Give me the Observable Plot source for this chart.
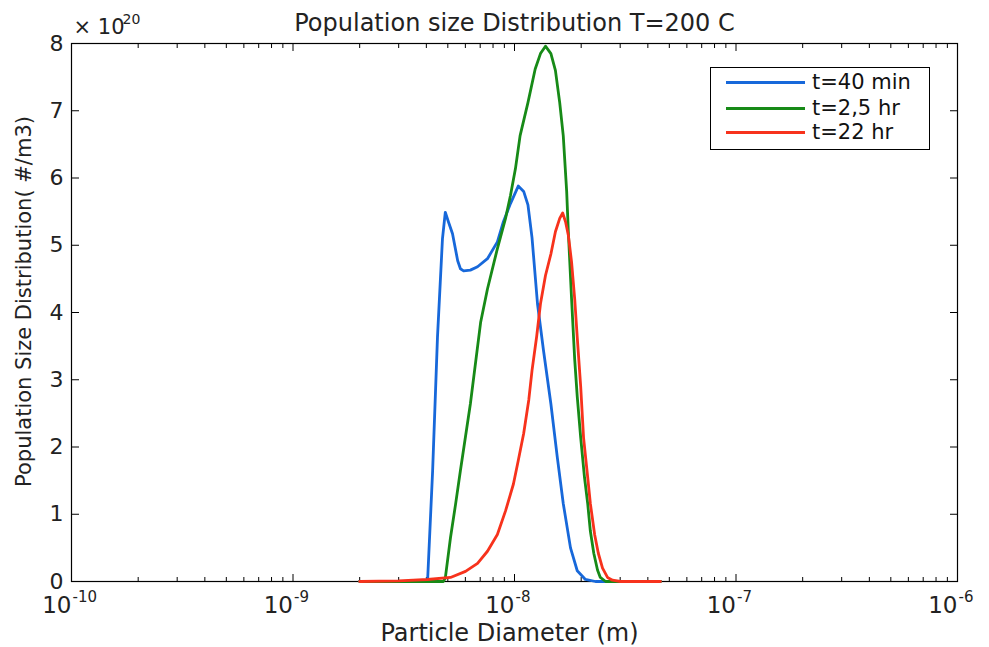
<!DOCTYPE html>
<html><head><meta charset="utf-8">
<script src="https://cdn.jsdelivr.net/npm/d3@7"></script>
<script src="https://cdn.jsdelivr.net/npm/@observablehq/plot@0.6"></script>
<style>
body{margin:0;background:#fff;}
#wrap{position:relative;width:989px;height:647px;font-family:"DejaVu Sans",sans-serif;}
#legend{position:absolute;left:710px;top:67px;width:218px;height:81px;border:1px solid #000;background:#fff;}
.row{position:absolute;left:0;width:218px;height:24px;}
.sw{position:absolute;left:15px;top:10.5px;width:79px;height:3px;}
.lb{position:absolute;left:101px;top:0;font-size:21px;line-height:24px;color:#111;white-space:nowrap;}
</style></head><body><div id="wrap"></div>
<script>
// ---- data (diameter in nm, distribution in units of 1e20 #/m3) ----
const seriesLabels = ["t=40 min", "t=2,5 hr", "t=22 hr"];
const seriesColors = ["#1768da", "#178a17", "#f7321c"];

const diam_40min = [2.0, 4.05, 4.27, 4.49, 4.73, 4.87, 5.03, 5.25, 5.54, 5.70, 5.89, 6.32, 6.81, 7.55, 8.37, 8.91, 9.59, 10.4, 11.0, 11.5, 12.0, 12.7, 13.5, 14.6, 15.6, 16.6, 17.9, 19.2, 20.9, 23.2, 45.6];
const psd_40min  = [0, 0, 1.65, 3.63, 5.1, 5.49, 5.35, 5.17, 4.77, 4.65, 4.62, 4.63, 4.68, 4.8, 5.05, 5.35, 5.62, 5.88, 5.8, 5.6, 5.11, 4.13, 3.45, 2.64, 1.85, 1.16, 0.5, 0.16, 0.03, 0, 0];

const diam_2_5hr = [2.0, 4.77, 4.87, 5.14, 5.42, 5.70, 6.32, 7.03, 7.55, 8.37, 9.11, 9.59, 10.1, 10.6, 11.5, 12.4, 13.1, 13.8, 14.6, 15.3, 16.0, 16.6, 17.2, 17.5, 18.1, 18.7, 19.2, 19.9, 20.7, 21.4, 22.0, 22.8, 23.7, 24.4, 25.8, 45.6];
const psd_2_5hr  = [0, 0, 0.05, 0.65, 1.15, 1.65, 2.64, 3.85, 4.35, 4.95, 5.4, 5.74, 6.14, 6.63, 7.12, 7.62, 7.85, 7.96, 7.85, 7.6, 7.12, 6.63, 5.8, 5.2, 4.2, 3.3, 2.75, 2.14, 1.55, 1.16, 0.75, 0.42, 0.17, 0.06, 0, 0];

const diam_22hr = [2.0, 3.0, 4.05, 5.14, 6.01, 6.81, 7.55, 8.37, 9.11, 9.89, 10.4, 11.0, 11.6, 12.0, 12.6, 13.1, 13.8, 14.6, 15.3, 16.0, 16.5, 17.0, 17.5, 18.1, 18.7, 19.2, 19.9, 20.5, 21.4, 22.0, 23.0, 23.9, 24.97, 26.3, 27.7, 30.1, 45.6];
const psd_22hr  = [0, 0.01, 0.03, 0.06, 0.15, 0.27, 0.45, 0.7, 1.05, 1.45, 1.8, 2.2, 2.7, 3.14, 3.65, 4.13, 4.55, 4.87, 5.2, 5.4, 5.48, 5.35, 5.15, 4.75, 4.2, 3.63, 2.9, 2.14, 1.55, 1.16, 0.7, 0.42, 0.2, 0.06, 0.02, 0, 0];

// ---- axis ticks ----
const xTickExponents = [-10, -9, -8, -7, -6];
const xMinorMultipliers = [2, 3, 4, 5, 6, 7, 8, 9];
const yTicks = [0, 1, 2, 3, 4, 5, 6, 7, 8];

const titleText = "Population size Distribution T=200 C";
const xLabelText = "Particle Diameter (m)";
const yLabelText = "Population Size Distribution( #/m3)";

const toRows = (diam, psd) => diam.map((d, i) => ({d: d * 1e-9, v: psd[i]}));
const rows40 = toRows(diam_40min, psd_40min);
const rows25 = toRows(diam_2_5hr, psd_2_5hr);
const rows22 = toRows(diam_22hr, psd_22hr);

const majorX = xTickExponents.map(e => 10 ** e);
const minorX = xTickExponents.slice(0, -1).flatMap(e => xMinorMultipliers.map(m => m * 10 ** e));

const noText = () => "";
const chart = Plot.plot({
  width: 989, height: 647,
  marginLeft: 71, marginRight: 32, marginTop: 43, marginBottom: 66,
  style: {fontFamily: "DejaVu Sans, sans-serif", background: "#fff", color: "#000"},
  x: {type: "log", domain: [1e-10, 1e-6]},
  y: {domain: [0, 8]},
  marks: [
    Plot.frame({stroke: "#000", strokeWidth: 1.2}),
    Plot.axisY(yTicks, {anchor: "left", tickSize: -8, tickPadding: 16, fontSize: 22, label: null, tickFormat: d => String(d), fill: "#222"}),
    Plot.axisY(yTicks, {anchor: "right", tickSize: -8, tickFormat: noText, label: null}),
    Plot.axisX(majorX, {anchor: "bottom", tickSize: -7, tickFormat: noText, label: null}),
    Plot.axisX(minorX, {anchor: "bottom", tickSize: -4, tickFormat: noText, label: null}),
    Plot.axisX(majorX, {anchor: "top", tickSize: -7, tickFormat: noText, label: null}),
    Plot.axisX(minorX, {anchor: "top", tickSize: -4, tickFormat: noText, label: null}),
    Plot.line(rows40, {x: "d", y: "v", stroke: seriesColors[0], strokeWidth: 2.8}),
    Plot.line(rows25, {x: "d", y: "v", stroke: seriesColors[1], strokeWidth: 2.8}),
    Plot.line(rows22, {x: "d", y: "v", stroke: seriesColors[2], strokeWidth: 2.8}),
    Plot.text(xTickExponents, {x: e => 10 ** e, frameAnchor: "bottom", text: () => "10", textAnchor: "end", lineAnchor: "bottom", dy: 31, fontSize: 23, fill: "#222"}),
    Plot.text(xTickExponents, {x: e => 10 ** e, frameAnchor: "bottom", text: e => String(e), textAnchor: "start", lineAnchor: "bottom", dx: 1, dy: 20, fontSize: 15, fill: "#222"}),
    Plot.text(["× 10"], {frameAnchor: "top-left", text: d => d, textAnchor: "start", lineAnchor: "bottom", dx: 2, dy: -10, fontSize: 21, fill: "#222"}),
    Plot.text(["20"], {frameAnchor: "top-left", text: d => d, textAnchor: "start", lineAnchor: "bottom", dx: 51, dy: -20, fontSize: 14, fill: "#222"}),
    Plot.text([titleText], {frameAnchor: "top", text: d => d, textAnchor: "middle", lineAnchor: "bottom", dy: -13, fontSize: 24, fill: "#222"}),
    Plot.text([xLabelText], {frameAnchor: "bottom", text: d => d, textAnchor: "middle", lineAnchor: "bottom", dx: -5, dy: 59, fontSize: 24, fill: "#222"}),
    Plot.text([yLabelText], {frameAnchor: "left", text: d => d, rotate: -90, textAnchor: "middle", lineAnchor: "middle", dx: -47, dy: -11, fontSize: 21, fill: "#222"})
  ]
});
const wrap = document.getElementById("wrap");
wrap.appendChild(chart);

// legend box
const legend = document.createElement("div");
legend.id = "legend";
const rowTops = [2, 28, 52];
seriesLabels.forEach((lab, i) => {
  const row = document.createElement("div");
  row.className = "row";
  row.style.top = rowTops[i] + "px";
  const sw = document.createElement("div");
  sw.className = "sw";
  sw.style.background = seriesColors[i];
  const lb = document.createElement("div");
  lb.className = "lb";
  lb.textContent = lab;
  row.appendChild(sw); row.appendChild(lb);
  legend.appendChild(row);
});
wrap.appendChild(legend);
</script></body></html>
